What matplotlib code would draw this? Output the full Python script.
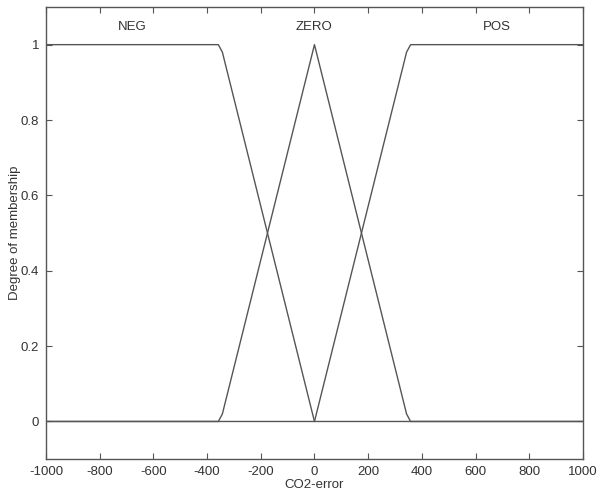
import numpy as np
import matplotlib
matplotlib.use('Agg')
import matplotlib.pyplot as plt

plt.rcParams['font.family'] = ['Liberation Sans', 'DejaVu Sans']
plt.rcParams['axes.unicode_minus'] = False

# membership function breakpoints
neg_x = [-1000, -358, -343, 0, 1000]
neg_y = [1, 1, 0.98, 0, 0]
zero_x = [-1000, -358, -343, 0, 343, 358, 1000]
zero_y = [0, 0, 0.02, 1, 0.02, 0, 0]
pos_x = [-1000, 0, 343, 358, 1000]
pos_y = [0, 0, 0.98, 1, 1]

mf_names = ['NEG', 'ZERO', 'POS']
mf_label_x = [-680, 0, 680]

xticks = np.arange(-1000, 1001, 200)
yticks = [0, 0.2, 0.4, 0.6, 0.8, 1]

line_col = '#555555'
text_col = '#333333'
fs = 9.5

fig = plt.figure(figsize=(5.97, 4.98), dpi=100)
ax = fig.add_axes([0.077, 0.078, 0.8995, 0.908])

for xs, ys in [(neg_x, neg_y), (zero_x, zero_y), (pos_x, pos_y)]:
    ax.plot(xs, ys, color=line_col, lw=1.0)

for name, lx in zip(mf_names, mf_label_x):
    ax.text(lx, 1.048, name, ha='center', va='center', fontsize=fs, color=text_col)

ax.set_xlim(-1000, 1000)
ax.set_ylim(-0.1, 1.1)
ax.set_xticks(xticks)
ax.set_yticks(yticks)
ax.set_yticklabels(['0', '0.2', '0.4', '0.6', '0.8', '1'])
ax.tick_params(direction='in', length=4, width=0.8, top=True, right=True,
               labelsize=fs, colors=text_col, color=line_col, pad=5)
for s in ax.spines.values():
    s.set_color(line_col)
    s.set_linewidth(1.0)

ax.set_xlabel('CO2-error', fontsize=fs, color=text_col, labelpad=1)
ax.set_ylabel('Degree of membership', fontsize=fs, color=text_col, labelpad=0)

fig.savefig('out.png', dpi=100)
